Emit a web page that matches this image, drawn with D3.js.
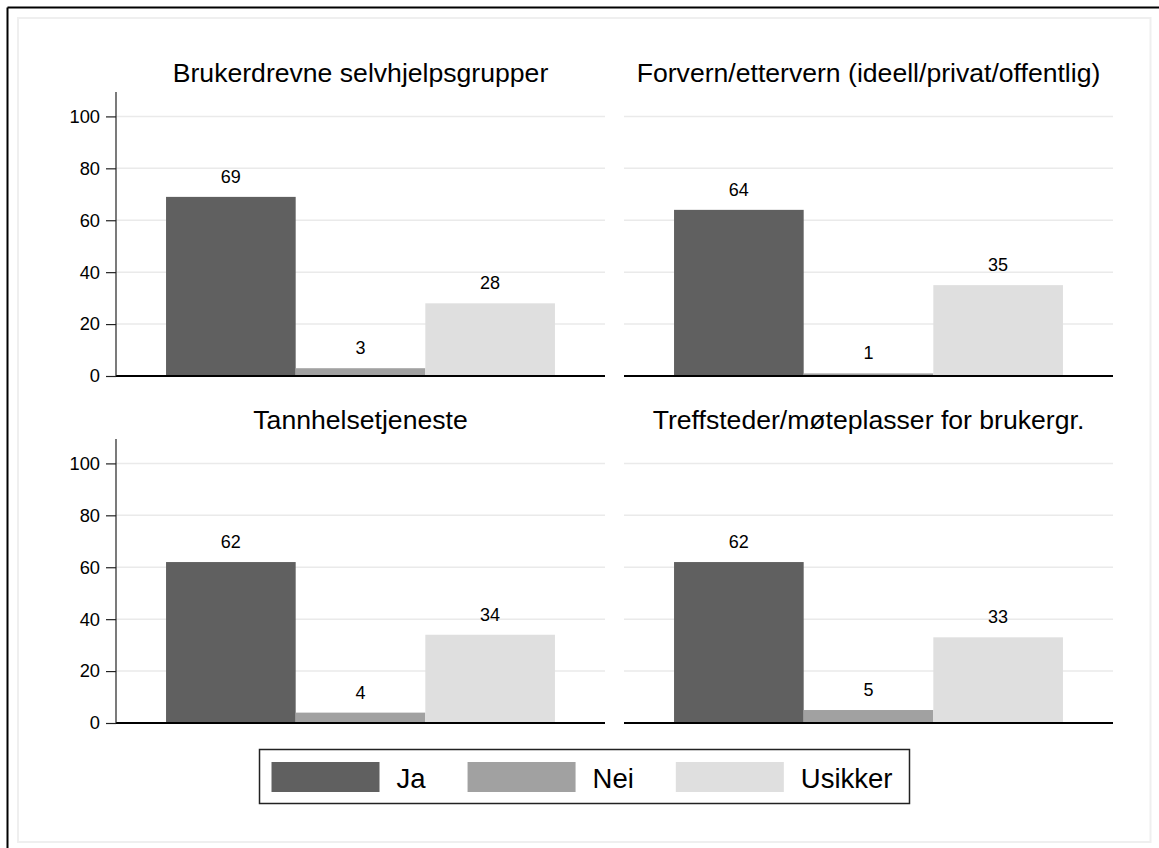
<!DOCTYPE html>
<html>
<head>
<meta charset="utf-8">
<script src="https://cdn.jsdelivr.net/npm/d3@7"></script>
<style>
  html, body { margin: 0; padding: 0; background: #fff; }
  svg { display: block; font-family: "Liberation Sans", Arial, Helvetica, sans-serif; }
</style>
</head>
<body>
<svg id="chart" width="1159" height="848"></svg>
<script>
// Answer categories (one bar each per panel)
const categories = ["Ja", "Nei", "Usikker"];

// Panel titles, in reading order
const panelTitles = [
  "Brukerdrevne selvhjelpsgrupper",
  "Forvern/ettervern (ideell/privat/offentlig)",
  "Tannhelsetjeneste",
  "Treffsteder/møteplasser for brukergr."
];

// Percent per category for each panel
const selvhjelpValues = [69, 3, 28];
const forvernValues   = [64, 1, 35];
const tannhelseValues = [62, 4, 34];
const treffstedValues = [62, 5, 33];

// Y axis tick labels
const yTicks = [0, 20, 40, 60, 80, 100];

const panelValues = [selvhjelpValues, forvernValues, tannhelseValues, treffstedValues];

const colors = d3.scaleOrdinal()
  .domain(categories)
  .range(["#606060", "#a1a1a1", "#dfdfdf"]);

const svg = d3.select("#chart");
const W = 1159, H = 848;

// Frame: dark edge along top and left, light inner border
svg.append("line").attr("x1", 7.5).attr("x2", W).attr("y1", 7.5).attr("y2", 7.5)
  .attr("stroke", "#000").attr("stroke-width", 2);
svg.append("line").attr("x1", 7.5).attr("x2", 7.5).attr("y1", 7.5).attr("y2", H)
  .attr("stroke", "#000").attr("stroke-width", 2);
svg.append("rect").attr("x", 18).attr("y", 18).attr("width", 1132.5).attr("height", 824)
  .attr("fill", "none").attr("stroke", "#efefef").attr("stroke-width", 2);

// Layout of the 2x2 grid
const colX = [[116, 605], [624, 1113]];
const rowY = [[376, 92], [723, 439]];
const yMax = 109.4;

panelValues.forEach((vals, i) => {
  const col = i % 2, row = Math.floor(i / 2);
  const [x0, x1] = colX[col];
  const [yb, yt] = rowY[row];

  const x = d3.scaleBand().domain(categories).range([x0, x1])
    .paddingInner(0).paddingOuter(0.386);
  const y = d3.scaleLinear().domain([0, yMax]).range([yb, yt]);

  const g = svg.append("g");

  // Horizontal gridlines
  g.selectAll("line.grid").data(yTicks.filter(t => t > 0)).enter()
    .append("line").attr("class", "grid")
    .attr("x1", x0).attr("x2", x1)
    .attr("y1", d => y(d)).attr("y2", d => y(d))
    .attr("stroke", "#eaeaea").attr("stroke-width", 1.5);

  // Bars
  const data = categories.map((c, k) => ({ cat: c, value: vals[k] }));
  g.selectAll("rect.bar").data(data).enter()
    .append("rect").attr("class", "bar")
    .attr("x", d => x(d.cat))
    .attr("width", x.bandwidth())
    .attr("y", d => y(d.value))
    .attr("height", d => y(0) - y(d.value))
    .attr("fill", d => colors(d.cat));

  // Value labels above bars
  g.selectAll("text.val").data(data).enter()
    .append("text").attr("class", "val")
    .attr("x", d => x(d.cat) + x.bandwidth() / 2)
    .attr("y", d => y(d.value) - 14)
    .attr("text-anchor", "middle")
    .attr("font-size", 18)
    .attr("fill", "#000")
    .text(d => d.value);

  // Baseline
  g.append("line").attr("x1", x0).attr("x2", x1)
    .attr("y1", y(0)).attr("y2", y(0))
    .attr("stroke", "#000").attr("stroke-width", 2);

  // Y axis only on the left column
  if (col === 0) {
    const axis = d3.axisLeft(y).tickValues(yTicks).tickSize(10).tickPadding(6);
    const ag = g.append("g").attr("transform", `translate(${x0},0)`).call(axis);
    ag.select(".domain").attr("stroke", "#222").attr("stroke-width", 1.2)
      .attr("d", `M-0,${yt}V${yb}`);
    ag.selectAll(".tick line").attr("stroke", "#222").attr("stroke-width", 1.2);
    ag.selectAll(".tick text").attr("font-size", 18.3).attr("fill", "#000")
      .attr("font-family", "Liberation Sans, Arial, sans-serif");
  }

  // Panel title
  g.append("text")
    .attr("x", (x0 + x1) / 2)
    .attr("y", yt - 10)
    .attr("text-anchor", "middle")
    .attr("font-size", 26.6)
    .attr("fill", "#000")
    .text(panelTitles[i]);
});

// Legend
const legendCenter = 584.5;
const lg = svg.append("g");
const box = lg.append("rect")
  .attr("y", 749.5).attr("height", 54)
  .attr("fill", "#fff").attr("stroke", "#222").attr("stroke-width", 1.5);

const swW = 108, swH = 30, swGap = 17, itemGap = 42, padL = 12, padR = 17;
const items = lg.selectAll("g.item").data(categories).enter().append("g").attr("class", "item");
items.append("rect").attr("width", swW).attr("height", swH).attr("y", 762)
  .attr("fill", d => colors(d));
const labels = items.append("text").attr("y", 787.5).attr("font-size", 27.5)
  .attr("fill", "#000").text(d => d);

const widths = [];
labels.each(function () { widths.push(this.getComputedTextLength()); });
const total = padL + d3.sum(widths.map(w => swW + swGap + w)) + itemGap * (categories.length - 1) + padR;
let cx = legendCenter - total / 2;
box.attr("x", cx).attr("width", total);
cx += padL;
items.each(function (d, k) {
  d3.select(this).select("rect").attr("x", cx);
  d3.select(this).select("text").attr("x", cx + swW + swGap);
  cx += swW + swGap + widths[k] + itemGap;
});
</script>
</body>
</html>
